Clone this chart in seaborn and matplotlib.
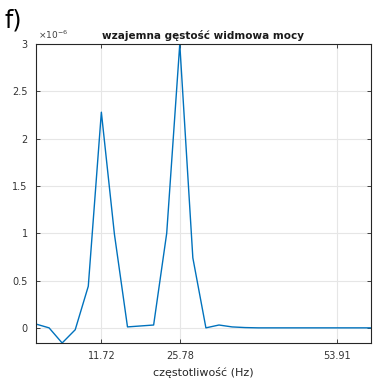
import numpy as np
import pandas as pd
import matplotlib
matplotlib.use("Agg")
import matplotlib.pyplot as plt
import seaborn as sns

# frequency bins (Hz), step 300/128
freq_step = 2.34375
bin_index = list(range(27))
# cross power spectral density, in units of 1e-6
csd_values = [0.04, 0.0, -0.16, -0.02, 0.44, 2.28, 0.99, 0.01, 0.02, 0.03,
              1.0, 3.0, 0.74, 0.0, 0.03, 0.01, 0.003, 0.0, 0.0, 0.0,
              0.0, 0.0, 0.0, 0.0, 0.0, 0.0, 0.0]
xtick_values = [11.72, 25.78, 53.91]
ytick_values = [0, 0.5, 1, 1.5, 2, 2.5, 3]

df = pd.DataFrame({"freq": np.array(bin_index) * freq_step, "csd": csd_values})

sns.set_theme(style="whitegrid")
plt.rcParams['font.family'] = ['DejaVu Sans']

fig = plt.figure(figsize=(3.77, 3.80), dpi=100)
ax = fig.add_axes([0.0955, 0.0974, 0.8875, 0.7866])

sns.lineplot(data=df, x="freq", y="csd", ax=ax, color="#0072BD", linewidth=1.0)

ax.set_xlim(0, 60)
ax.set_ylim(min(csd_values), max(csd_values))
ax.set_xticks(xtick_values)
ax.set_xticklabels([f"{v:.2f}" for v in xtick_values])
ax.set_yticks(ytick_values)
ax.set_yticklabels([f"{v:g}" for v in ytick_values])

ax.grid(True, color="#e6e6e6", linewidth=0.8)
for side in ax.spines.values():
    side.set_color("#262626")
    side.set_linewidth(0.8)
ax.set_facecolor("white")
ax.tick_params(direction="in", length=3, width=0.6, colors="#262626",
               labelsize=7, top=True, right=True, bottom=True, left=True,
               labeltop=False, labelright=False, pad=6)
for lab in ax.get_xticklabels() + ax.get_yticklabels():
    lab.set_color("#333333")

ax.set_xlabel("częstotliwość (Hz)", fontsize=8, color="#262626", labelpad=4)
ax.set_ylabel("")
ax.set_title("wzajemna gęstość widmowa mocy", fontsize=7.5, fontweight="bold",
             color="#1a1a1a", pad=4)

fig.text(0.102, 0.893, r"$\times10^{-6}$", fontsize=6.5, color="#404040",
         ha="left", va="bottom")
fig.text(0.012, 0.915, "f)", fontsize=17, color="black", ha="left", va="bottom")

fig.savefig("out.png", dpi=100)
